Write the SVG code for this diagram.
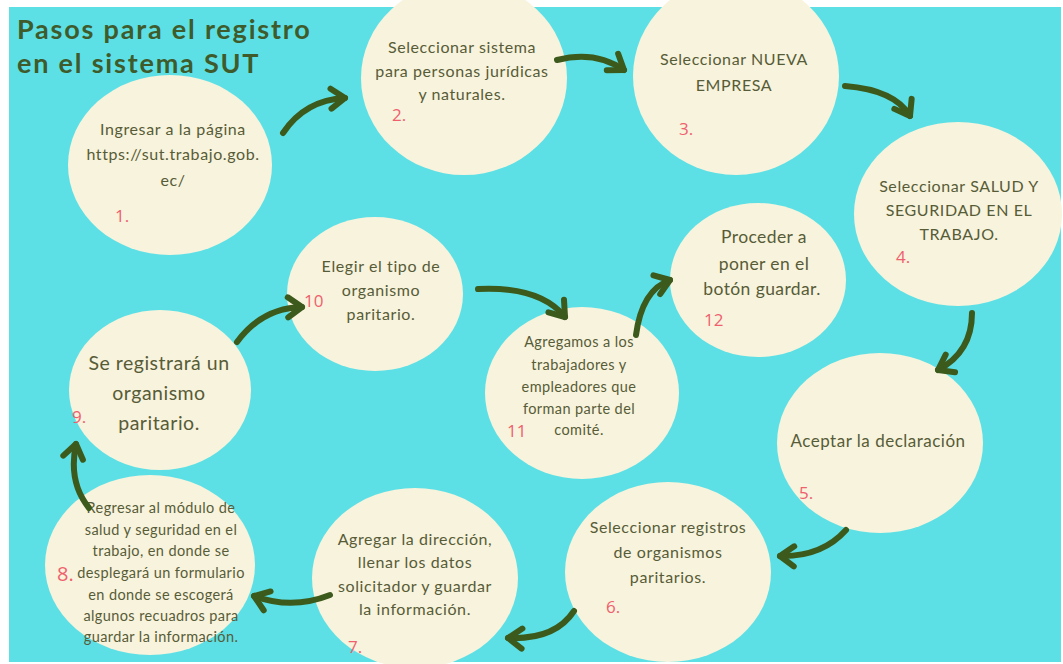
<svg xmlns="http://www.w3.org/2000/svg" width="1063" height="664" viewBox="0 0 1063 664">
<style>
.bg{fill:#5ce0e6}
.c{fill:#f8f3dc}
.t{font-family:Lato,"Open Sans","Liberation Sans",sans-serif;fill:#575c38;text-anchor:middle;font-size:16px;letter-spacing:0.6px}
.s{font-size:14.5px;letter-spacing:0.4px}
.n{font-family:"Open Sans","Liberation Sans",sans-serif;fill:#ef5f6e;font-size:17px}
.ttl{font-family:Lato,"Open Sans","Liberation Sans",sans-serif;font-weight:700;fill:#3f5b2b;font-size:27px;letter-spacing:1.8px}
.a{fill:none;stroke:#3d5a1d;stroke-width:6;stroke-linecap:round}
</style>
<defs>
<marker id="h" markerUnits="userSpaceOnUse" viewBox="-18 -14 24 28" markerWidth="24" markerHeight="28" refX="0" refY="0" orient="auto" overflow="visible">
<path d="M-14,-10 L0,0 L-14,10" fill="none" stroke="#3d5a1d" stroke-width="6" stroke-linecap="round" stroke-linejoin="round"/>
</marker>
</defs>
<rect width="1063" height="664" fill="#ffffff"/>
<rect class="bg" x="9" y="7" width="1052" height="655"/>
<g id="title">
<text class="ttl" x="17" y="39">Pasos para el registro</text>
<text class="ttl" x="17" y="73">en el sistema SUT</text>
</g>
<g id="n1">
<ellipse class="c" cx="170" cy="165" rx="102" ry="90"/>
<text class="t" x="173" y="135">Ingresar a la página</text>
<text class="t" x="173" y="160">https://sut.trabajo.gob.</text>
<text class="t" x="173" y="186">ec/</text>
<text class="n" x="115" y="222">1.</text>
</g>
<g id="n2">
<ellipse class="c" cx="464" cy="78" rx="103" ry="97"/>
<text class="t" x="462" y="53">Seleccionar sistema</text>
<text class="t" x="462" y="77">para personas jurídicas</text>
<text class="t" x="462" y="100">y naturales.</text>
<text class="n" x="392" y="121">2.</text>
</g>
<g id="n3">
<ellipse class="c" cx="736" cy="76" rx="103" ry="99"/>
<text class="t" x="734" y="65">Seleccionar NUEVA</text>
<text class="t" x="734" y="91">EMPRESA</text>
<text class="n" x="679" y="135">3.</text>
</g>
<g id="n4">
<ellipse class="c" cx="958" cy="214" rx="104" ry="92"/>
<text class="t" x="959" y="192">Seleccionar SALUD Y</text>
<text class="t" x="959" y="216">SEGURIDAD EN EL</text>
<text class="t" x="959" y="240">TRABAJO.</text>
<text class="n" x="896" y="263">4.</text>
</g>
<g id="n5">
<ellipse class="c" cx="880" cy="443" rx="103" ry="90"/>
<text class="t" x="878" y="447" style="font-size:17px;letter-spacing:0.5px">Aceptar la declaración</text>
<text class="n" x="799" y="499">5.</text>
</g>
<g id="n6">
<ellipse class="c" cx="668" cy="572" rx="103" ry="90"/>
<text class="t" x="668" y="533">Seleccionar registros</text>
<text class="t" x="668" y="558">de organismos</text>
<text class="t" x="668" y="583">paritarios.</text>
<text class="n" x="606" y="613">6.</text>
</g>
<g id="n7">
<ellipse class="c" cx="415" cy="578" rx="103" ry="90"/>
<text class="t" x="415" y="545">Agregar la dirección,</text>
<text class="t" x="415" y="568">llenar los datos</text>
<text class="t" x="415" y="592">solicitador y guardar</text>
<text class="t" x="415" y="615">la información.</text>
<text class="n" x="348" y="653">7.</text>
</g>
<g id="n8">
<ellipse class="c" cx="150" cy="565" rx="105" ry="90"/>
<text class="t s" x="161" y="513">Regresar al módulo de</text>
<text class="t s" x="161" y="535">salud y seguridad en el</text>
<text class="t s" x="161" y="556">trabajo, en donde se</text>
<text class="t s" x="161" y="578">desplegará un formulario</text>
<text class="t s" x="161" y="600">en donde se escogerá</text>
<text class="t s" x="161" y="621">algunos recuadros para</text>
<text class="t s" x="161" y="642">guardar la información.</text>
<text class="n" x="57" y="581" style="font-size:20px">8.</text>
</g>
<g id="n9">
<ellipse class="c" cx="160" cy="390" rx="91" ry="80"/>
<text class="t" x="159" y="370" style="font-size:19.5px;letter-spacing:0.5px">Se registrará un</text>
<text class="t" x="159" y="400" style="font-size:19.5px;letter-spacing:0.5px">organismo</text>
<text class="t" x="159" y="430" style="font-size:19.5px;letter-spacing:0.5px">paritario.</text>
<text class="n" x="72" y="423">9.</text>
</g>
<g id="n10">
<ellipse class="c" cx="375" cy="294" rx="88" ry="77"/>
<text class="t" x="381" y="272">Elegir el tipo de</text>
<text class="t" x="381" y="296">organismo</text>
<text class="t" x="381" y="320">paritario.</text>
<text class="n" x="304" y="307">10</text>
</g>
<g id="n11">
<ellipse class="c" cx="582" cy="393" rx="97" ry="86"/>
<text class="t s" x="579" y="347">Agregamos a los</text>
<text class="t s" x="579" y="370">trabajadores y</text>
<text class="t s" x="579" y="392">empleadores que</text>
<text class="t s" x="579" y="414">forman parte del</text>
<text class="t s" x="579" y="435">comité.</text>
<text class="n" x="507" y="437">11</text>
</g>
<g id="n12">
<ellipse class="c" cx="758" cy="280" rx="88" ry="77"/>
<text class="t" x="764" y="243" style="font-size:17.5px;letter-spacing:0.4px">Proceder a</text>
<text class="t" x="764" y="270" style="font-size:17.5px;letter-spacing:0.4px">poner en el</text>
<text class="t" x="762" y="295" style="font-size:17.5px;letter-spacing:0.4px">botón guardar.</text>
<text class="n" x="704" y="326">12</text>
</g>
<g id="connectors">
<path class="a" marker-end="url(#h)" d="M283,133 Q305,100 345,98"/>
<path class="a" marker-end="url(#h)" d="M557,60 Q595,50 624,70"/>
<path class="a" marker-end="url(#h)" d="M845,86 Q895,90 910,116"/>
<path class="a" marker-end="url(#h)" d="M972,313 Q972,352 938,370"/>
<path class="a" marker-end="url(#h)" d="M846,530 Q822,557 780,556"/>
<path class="a" marker-end="url(#h)" d="M574,611 Q555,640 508,638"/>
<path class="a" marker-end="url(#h)" d="M330,595 Q292,610 254,596"/>
<path class="a" marker-end="url(#h)" d="M89,508 Q68,482 76,444"/>
<path class="a" marker-end="url(#h)" d="M237,342 Q262,308 302,307"/>
<path class="a" marker-end="url(#h)" d="M478,289 Q540,286 565,317"/>
<path class="a" marker-end="url(#h)" d="M636,335 Q642,290 670,280"/>
</g>
</svg>
